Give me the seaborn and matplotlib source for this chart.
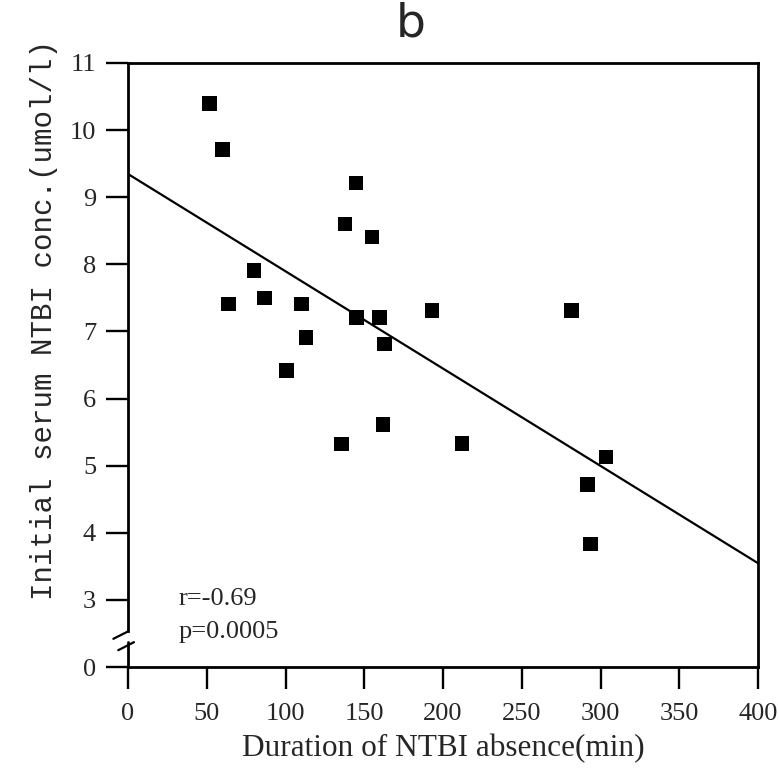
import numpy as np
import pandas as pd
import matplotlib
matplotlib.use("Agg")
import matplotlib.pyplot as plt
import seaborn as sns

# Data
duration_min = [51.9, 59.9, 144.7, 137.7, 155.0, 80.1, 63.7, 86.6, 110.2, 144.9,
                159.8, 113.1, 163.0, 100.8, 193.0, 161.9, 135.4, 281.5, 212.0,
                303.6, 291.9, 293.8]
ntbi_conc = [10.40, 9.71, 9.21, 8.60, 8.41, 7.91, 7.41, 7.50, 7.41, 7.21,
             7.21, 6.91, 6.81, 6.42, 7.31, 5.61, 5.32, 7.31, 5.33,
             5.13, 4.72, 3.83]
x_ticks = [0, 50, 100, 150, 200, 250, 300, 350, 400]
y_tick_pos = [2, 3, 4, 5, 6, 7, 8, 9, 10, 11]
y_tick_labels = ["0", "3", "4", "5", "6", "7", "8", "9", "10", "11"]
r_text = "r=-0.69"
p_text = "p=0.0005"
title_text = "b"
x_label = "Duration of NTBI absence(min)"
y_label = "Initial serum NTBI conc.(umol/l)"

df = pd.DataFrame({"duration": duration_min, "conc": ntbi_conc})

sns.set_style("ticks")
serif = ["Liberation Serif", "DejaVu Serif"]
mono = ["Liberation Mono", "DejaVu Sans Mono"]

fig = plt.figure(figsize=(7.79, 7.78), dpi=100)
ax = fig.add_axes([128 / 779, 1 - 667 / 778, (758 - 128) / 779, (667 - 63) / 778])

ax.set_xlim(0, 400)
ax.set_ylim(2, 11)
sns.regplot(data=df, x="duration", y="conc", ax=ax, ci=None, truncate=False,
            marker="s",
            scatter_kws=dict(s=110, color="black", alpha=1, edgecolors="none", zorder=3),
            line_kws=dict(color="black", lw=1.6))
ax.set_xlim(0, 400)
ax.set_ylim(2, 11)

ax.set_xticks(x_ticks)
ax.set_xticklabels([str(t) for t in x_ticks], family=serif, fontsize=19)
ax.set_yticks(y_tick_pos)
ax.set_yticklabels(y_tick_labels, family=serif, fontsize=19)
ax.tick_params(axis="both", direction="out", length=16, width=1.7, color="black")
ax.tick_params(axis="x", pad=10)
ax.tick_params(axis="y", pad=7)

for s in ax.spines.values():
    s.set_linewidth(2.0)
    s.set_color("black")
ax.spines["left"].set_bounds(2.53, 11)
# lower part of the broken y axis and the break marks
ax.plot([0, 0], [2, 2.37], color="black", lw=2.0, clip_on=False)
ax.plot([-9.3, 0], [2.42, 2.53], color="black", lw=1.6, clip_on=False)
ax.plot([-6.2, 3.8], [2.25, 2.37], color="black", lw=1.6, clip_on=False)

ax.set_xlabel(x_label, family=serif, fontsize=22.5, labelpad=6)
ax.set_ylabel(y_label, family=mono, fontsize=21)
ax.yaxis.set_label_coords(-0.111, 0.574)

ax.text(32, 2.93, r_text, family=serif, fontsize=19, ha="left", va="baseline")
ax.text(32, 2.43, p_text, family=serif, fontsize=19, ha="left", va="baseline")
fig.text(411 / 779, 1 - 24 / 778, title_text, family=["DejaVu Sans"], fontsize=34,
         ha="center", va="center")

fig.savefig("out.png", dpi=100)
